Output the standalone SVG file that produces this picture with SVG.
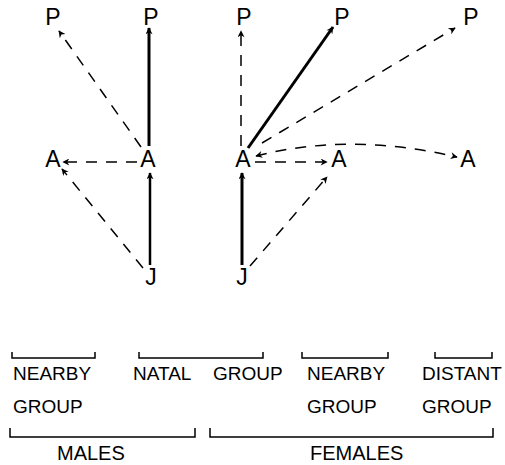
<svg xmlns="http://www.w3.org/2000/svg" width="505" height="465" viewBox="0 0 505 465">
<style>
.lbl{font-family:"Liberation Sans",Arial,sans-serif;font-size:23px;fill:#000;text-anchor:middle}
.cap{font-family:"Liberation Sans",Arial,sans-serif;font-size:19px;fill:#000}
.cap2{font-family:"Liberation Sans",Arial,sans-serif;font-size:20px;fill:#000}
.solid{stroke:#000;stroke-width:3;fill:none;marker-end:url(#ah)}
.dash{stroke:#000;stroke-width:1.5;fill:none;stroke-dasharray:11 9;marker-end:url(#ah)}
.br{stroke:#000;stroke-width:1.5;fill:none}
</style>
<defs>
<marker id="ah" viewBox="0 0 10 10" refX="9" refY="5" markerWidth="10" markerHeight="7" markerUnits="userSpaceOnUse" orient="auto-start-reverse">
<path d="M0,0 L10,5 L0,10 L3,5 z" fill="#000"/>
</marker>
</defs>
<rect width="505" height="465" fill="#fff"/>
<g id="connectors">
<line class="dash" x1="141" y1="147" x2="59" y2="31"/>
<line class="solid" x1="149" y1="146" x2="149" y2="28"/>
<line class="dash" x1="137" y1="162" x2="63" y2="162"/>
<line class="dash" x1="143" y1="268" x2="62" y2="169"/>
<line class="solid" x1="150" y1="265" x2="150" y2="173" style="stroke-width:2.5"/>
<line class="dash" x1="241" y1="146" x2="241" y2="31"/>
<line class="solid" x1="248" y1="148" x2="333" y2="27"/>
<line class="dash" x1="262" y1="143" x2="455" y2="28"/>
<line class="dash" x1="255" y1="162" x2="327" y2="162"/>
<path class="dash" d="M256,156 Q350,132 457,157" style="marker-start:url(#ah)"/>
<line class="solid" x1="242" y1="265" x2="242" y2="173"/>
<line class="dash" x1="250" y1="266" x2="327" y2="177"/>
</g>
<g id="male-P1"><text class="lbl" x="53" y="25">P</text></g>
<g id="male-P2"><text class="lbl" x="151" y="25">P</text></g>
<g id="female-P1"><text class="lbl" x="244" y="25">P</text></g>
<g id="female-P2"><text class="lbl" x="342" y="25">P</text></g>
<g id="female-P3"><text class="lbl" x="471" y="25">P</text></g>
<g id="male-A1"><text class="lbl" x="53" y="167">A</text></g>
<g id="male-A2"><text class="lbl" x="148" y="167">A</text></g>
<g id="female-A1"><text class="lbl" x="243" y="167">A</text></g>
<g id="female-A2"><text class="lbl" x="339" y="167">A</text></g>
<g id="female-A3"><text class="lbl" x="468" y="167">A</text></g>
<g id="male-J"><text class="lbl" x="151" y="285">J</text></g>
<g id="female-J"><text class="lbl" x="242" y="285">J</text></g>
<g id="legend">
<path class="br" d="M12,352 V358 H95 V352"/>
<path class="br" d="M139,352 V358 H263 V352"/>
<path class="br" d="M302,352 V358 H388 V352"/>
<path class="br" d="M435,352 V358 H492 V352"/>
<text class="cap" x="13" y="380">NEARBY</text>
<text class="cap" x="13" y="413">GROUP</text>
<text class="cap" x="133" y="380">NATAL</text>
<text class="cap" x="213" y="380">GROUP</text>
<text class="cap" x="307" y="380">NEARBY</text>
<text class="cap" x="307" y="413">GROUP</text>
<text class="cap" x="422" y="380">DISTANT</text>
<text class="cap" x="422" y="413">GROUP</text>
<path class="br" d="M10,428 V437 H195 V428"/>
<path class="br" d="M210,428 V437 H493 V428"/>
<text class="cap2" x="57" y="460">MALES</text>
<text class="cap2" x="310" y="460">FEMALES</text>
</g>
</svg>
